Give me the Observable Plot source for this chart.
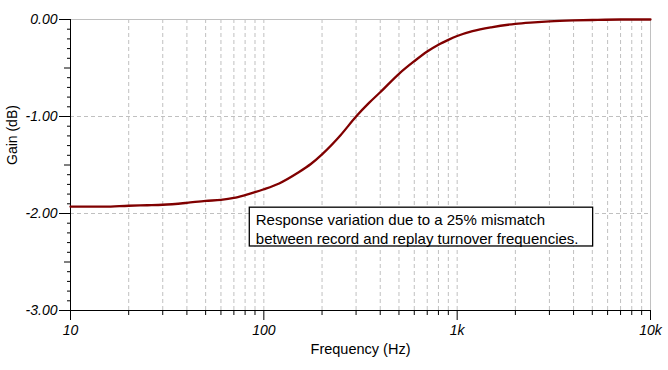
<!DOCTYPE html>
<html>
<head>
<meta charset="utf-8">
<script src="https://cdn.jsdelivr.net/npm/d3@7"></script>
<script src="https://cdn.jsdelivr.net/npm/@observablehq/plot@0.6"></script>
<style>
  html, body { margin: 0; padding: 0; background: white; }
  #chart svg [aria-label="x-axis tick label"] text,
  #chart svg [aria-label="y-axis tick label"] text { font-style: italic; }
</style>
</head>
<body>
<div id="chart"></div>
<script>
// Frequency response
const freqs = [10, 15, 20, 25, 30, 40, 50, 60, 70, 80, 90, 100, 120, 150, 175, 200, 250, 300, 350, 400,
               500, 600, 700, 800, 900, 1000, 1200, 1500, 2000, 2500, 3000, 4000, 5000, 7000, 10000];
const gains = [-1.93, -1.93, -1.92, -1.915, -1.91, -1.89, -1.87, -1.86, -1.84, -1.81, -1.78, -1.75, -1.69, -1.58, -1.49, -1.39, -1.19, -1.00, -0.86, -0.75,
               -0.56, -0.43, -0.33, -0.26, -0.21, -0.17, -0.12, -0.08, -0.045, -0.03, -0.02, -0.01, -0.005, 0.0, 0.0];

// Axis ticks
const freqMajorTicks = [10, 100, 1000, 10000];
const freqMajorLabels = ["10", "100", "1k", "10k"];
const freqMinorTicks = [20, 30, 40, 50, 60, 70, 80, 90, 200, 300, 400, 500, 600, 700, 800, 900,
                        2000, 3000, 4000, 5000, 6000, 7000, 8000, 9000];
const freqGrid = [20, 30, 40, 50, 60, 70, 80, 90, 100, 200, 300, 400, 500, 600, 700, 800, 900, 1000,
                  2000, 3000, 4000, 5000, 6000, 7000, 8000, 9000];
const gainMajorTicks = [0, -1, -2, -3];
const gainHalfTicks = [-0.5, -1.5, -2.5];
const gainMinorTicks = [-0.1, -0.2, -0.3, -0.4, -0.6, -0.7, -0.8, -0.9,
                        -1.1, -1.2, -1.3, -1.4, -1.6, -1.7, -1.8, -1.9,
                        -2.1, -2.2, -2.3, -2.4, -2.6, -2.7, -2.8, -2.9];
const gainGrid = [-1, -2];

// Labels and annotation
const xLabel = ["Frequency (Hz)"];
const yLabel = ["Gain (dB)"];
const noteBox = [{f1: 84.6, f2: 5050, g1: -1.94, g2: -2.34}];
const noteText = [{f: 84.6, g: -1.94, label: "Response variation due to a 25% mismatch\nbetween record and replay turnover frequencies."}];

const data = freqs.map((f, i) => ({f, g: gains[i]}));
const gridStyle = {stroke: "#c0c0c0", strokeOpacity: 1, strokeDasharray: "4,3"};

const chart = Plot.plot({
  width: 668,
  height: 370,
  marginLeft: 70,
  marginRight: 18,
  marginTop: 19,
  marginBottom: 60,
  x: {type: "log", domain: [10, 10000]},
  y: {domain: [-3, 0]},
  style: {fontFamily: "'Liberation Sans', Arial, sans-serif", fontSize: "14px", color: "black", background: "white"},
  marks: [
    Plot.gridX(freqGrid, gridStyle),
    Plot.gridY(gainGrid, gridStyle),
    Plot.ruleY([0], {stroke: "#c0c0c0"}),
    Plot.ruleX([10000], {stroke: "#c0c0c0"}),
    Plot.ruleX([10], {stroke: "black"}),
    Plot.ruleY([-3], {stroke: "black"}),
    Plot.axisX(freqMajorTicks, {tickSize: 10, tickPadding: 5, fontStyle: "italic", fontSize: 14,
      tickFormat: d => freqMajorLabels[freqMajorTicks.indexOf(d)], label: null}),
    Plot.axisX(freqMinorTicks, {tickSize: 5, tickFormat: () => "", label: null}),
    Plot.axisY(gainMajorTicks, {tickSize: 11, tickPadding: 2, fontStyle: "italic", fontSize: 14,
      tickFormat: d => d.toFixed(2), label: null}),
    Plot.axisY(gainHalfTicks, {tickSize: 6, tickFormat: () => "", label: null}),
    Plot.axisY(gainMinorTicks, {tickSize: 3, tickFormat: () => "", label: null}),
    Plot.text(xLabel, {text: d => d, frameAnchor: "bottom", dy: 43, fontSize: 14.5}),
    Plot.text(yLabel, {text: d => d, frameAnchor: "left", rotate: -90, dx: -58, fontSize: 14}),
    Plot.rect(noteBox, {x1: "f1", x2: "f2", y1: "g1", y2: "g2", fill: "white", stroke: "black", strokeWidth: 1.3}),
    Plot.text(noteText, {x: "f", y: "g", text: "label", textAnchor: "start", lineAnchor: "top",
      dx: 6, dy: 3, fontSize: 15, lineHeight: 1.3}),
    Plot.line(data, {x: "f", y: "g", stroke: "#800000", strokeWidth: 2.3, curve: "monotone-x"})
  ]
});
document.getElementById("chart").appendChild(chart);
</script>
</body>
</html>
